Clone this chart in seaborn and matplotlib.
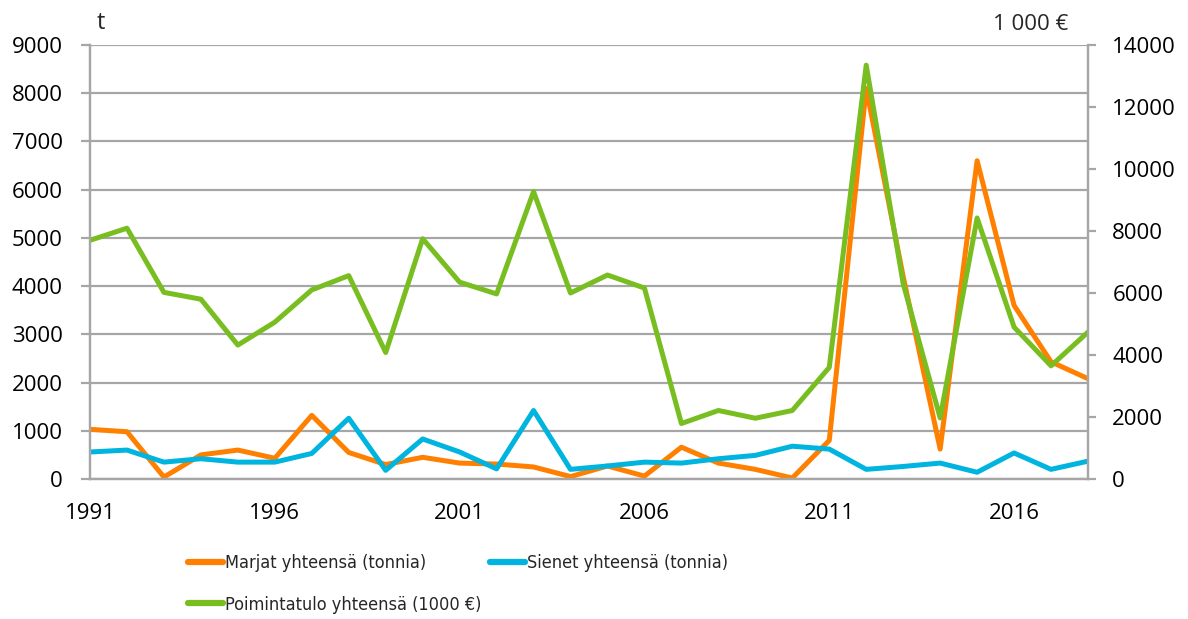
import matplotlib
matplotlib.use("Agg")
import matplotlib.pyplot as plt
import seaborn as sns
import pandas as pd
from matplotlib import font_manager as fm

years = list(range(1991, 2019))
marjat = [1030, 980, 40, 500, 600, 430, 1320, 550, 300, 450, 330, 310, 250, 50,
          270, 60, 660, 330, 200, 20, 800, 8100, 4200, 620, 6600, 3600, 2430, 2080]
sienet = [560, 600, 350, 420, 350, 350, 530, 1260, 180, 830, 560, 210, 1420, 200,
          270, 350, 330, 420, 490, 680, 620, 200, 260, 330, 140, 540, 200, 370]
poiminta = [7700, 8090, 6020, 5800, 4320, 5060, 6100, 6560, 4080, 7750, 6350, 5970,
            9270, 6000, 6580, 6160, 1790, 2210, 1960, 2210, 3600, 13350, 6300, 1970,
            8420, 4900, 3650, 4740]

lab_m = "Marjat yhteensä (tonnia)"
lab_s = "Sienet yhteensä (tonnia)"
lab_p = "Poimintatulo yhteensä (1000 €)"

df = pd.DataFrame({"year": years, "m": marjat, "s": sienet, "p": poiminta})

sns.set_theme(style="white")
plt.rcParams["font.family"] = ["Open Sans", "DejaVu Sans"]

c_or = "#FF8000"
c_bl = "#00B4E0"
c_gr = "#78BE20"
grid_c = "#A6A6A6"
lw = 3.6

fig = plt.figure(figsize=(11.88, 6.19), dpi=100)
ax = fig.add_axes([90/1188, 1 - 479/619, 998/1188, 434/619])
ax2 = ax.twinx()

sns.lineplot(data=df, x="year", y="m", ax=ax, color=c_or, lw=lw, label=lab_m, legend=False)
sns.lineplot(data=df, x="year", y="s", ax=ax, color=c_bl, lw=lw, label=lab_s, legend=False)
sns.lineplot(data=df, x="year", y="p", ax=ax2, color=c_gr, lw=lw, label=lab_p, legend=False)

ax.set_xlim(1991, 2018)
ax.set_ylim(0, 9000)
ax2.set_ylim(0, 14000)
ax.set_xticks(list(range(1991, 2018, 5)))
ax.set_yticks(list(range(0, 9001, 1000)))
ax2.set_yticks(list(range(0, 14001, 2000)))
ax.set_xlabel("")
ax.set_ylabel("")
ax2.set_ylabel("")

ax.yaxis.grid(True, color=grid_c, lw=1.6)
ax.xaxis.grid(False)
ax2.grid(False)
ax.set_axisbelow(True)

for a in (ax, ax2):
    a.spines["top"].set_visible(False)
    for sp in ("left", "right", "bottom"):
        a.spines[sp].set_color(grid_c)
        a.spines[sp].set_linewidth(1.6)

ax.tick_params(axis="x", direction="out", length=6, width=1.4, color=grid_c,
               labelsize=16, pad=11, labelcolor="black")
ax.tick_params(axis="y", direction="out", length=6.5, width=1.6, color=grid_c,
               labelsize=16, pad=13, labelcolor="black", left=True)
ax2.tick_params(axis="y", direction="out", length=6, width=1.6, color=grid_c,
                labelsize=16, pad=11.5, labelcolor="black", right=True)

fig.text(97/1188, 1 - 23/619, "t", fontsize=17, va="center", ha="left")
fig.text(1068/1188, 1 - 24/619, "1 000 €", fontsize=16, va="center", ha="right")

cond = fm.FontProperties(family="DejaVu Sans", stretch="condensed", size=13)

h1, l1 = ax.get_legend_handles_labels()
h2, l2 = ax2.get_legend_handles_labels()
hd = {l: h for h, l in zip(h1 + h2, l1 + l2)}
order = [lab_m, lab_p, lab_s]
leg = fig.legend([hd[k] for k in order], order, ncol=2, loc="upper left",
                 bbox_to_anchor=(181/1188, 1 - 547/619), frameon=False,
                 prop=cond,
                 handlelength=1.95, handletextpad=0.1, columnspacing=0.45,
                 labelspacing=1.3, borderaxespad=0)
for lh in leg.get_lines():
    lh.set_linewidth(4.5)

fig.savefig("out.png", dpi=100)
